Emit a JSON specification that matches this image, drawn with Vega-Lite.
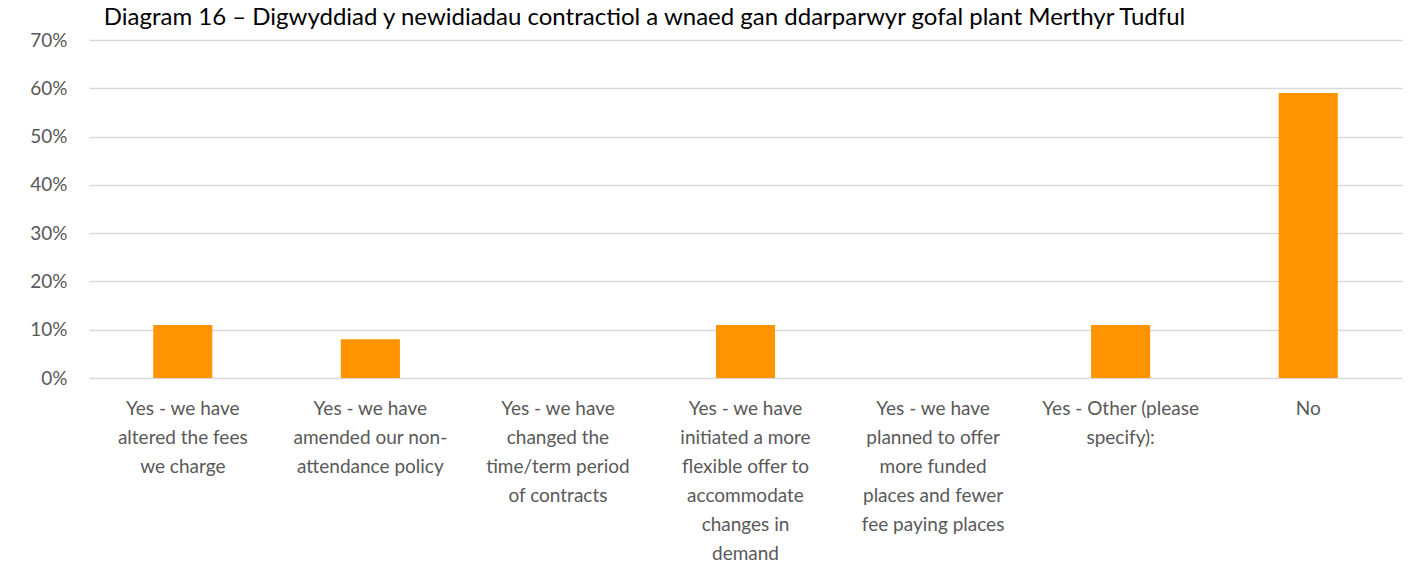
{
  "$schema": "https://vega.github.io/schema/vega-lite/v6.json",
  "width": 1313,
  "height": 338,
  "autosize": {"type": "none"},
  "padding": {"left": 89, "top": 40, "right": 12, "bottom": 203},
  "background": "white",
  "title": {
    "text": "Diagram 16 – Digwyddiad y newidiadau contractiol a wnaed gan ddarparwyr gofal plant Merthyr Tudful",
    "anchor": "start",
    "frame": "bounds",
    "font": "Lato",
    "fontSize": 24,
    "fontWeight": "normal",
    "color": "#000000",
    "offset": 1,
    "dx": 74
  },
  "data": {
    "values": [
      {"label": "Yes - we have|altered the fees|we charge", "value": 0.11},
      {"label": "Yes - we have|amended our non-|attendance policy", "value": 0.08},
      {"label": "Yes - we have|changed the|time/term period|of contracts", "value": 0.0},
      {"label": "Yes - we have|initiated a more|flexible offer to|accommodate|changes in|demand", "value": 0.11},
      {"label": "Yes - we have|planned to offer|more funded|places and fewer|fee paying places", "value": 0.0},
      {"label": "Yes - Other (please|specify):", "value": 0.11},
      {"label": "No", "value": 0.59}
    ]
  },
  "mark": {"type": "bar", "color": "#FF9300"},
  "encoding": {
    "x": {
      "field": "label",
      "type": "nominal",
      "sort": null,
      "title": null,
      "scale": {"paddingInner": 0.685, "paddingOuter": 0.3425},
      "axis": {
        "labelExpr": "split(datum.label, '|')",
        "labelAngle": 0,
        "labelFont": "Lato",
        "labelFontSize": 19,
        "labelColor": "#595959",
        "labelLineHeight": 29,
        "labelPadding": 21,
        "labelBaseline": "top",
        "ticks": false,
        "domain": false,
        "labelLimit": 0
      }
    },
    "y": {
      "field": "value",
      "type": "quantitative",
      "title": null,
      "scale": {"domain": [0, 0.7]},
      "axis": {
        "format": ".0%",
        "values": [0, 0.1, 0.2, 0.3, 0.4, 0.5, 0.6, 0.7],
        "labelFont": "Lato",
        "labelFontSize": 19,
        "labelColor": "#595959",
        "labelPadding": 22,
        "ticks": false,
        "domain": false,
        "gridColor": "#d9d9d9",
        "gridWidth": 1.5
      }
    }
  },
  "config": {"view": {"stroke": null}}
}
